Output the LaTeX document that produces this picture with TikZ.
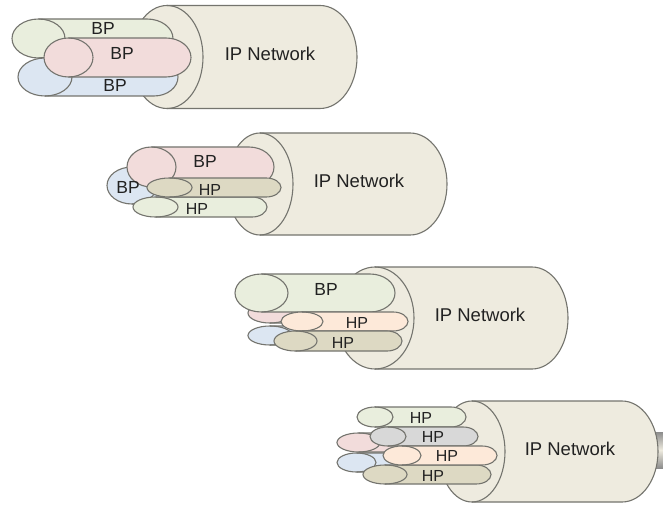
\documentclass[tikz,border=0pt]{standalone}
\usepackage{fontspec}
\setmainfont{Liberation Sans}
\definecolor{cylfill}{HTML}{EEEBDF}
\definecolor{gfill}{HTML}{E9EEDD}
\definecolor{rfill}{HTML}{F2DCDB}
\definecolor{bfill}{HTML}{DCE6F2}
\definecolor{tfill}{HTML}{DDD9C3}
\definecolor{yfill}{HTML}{D8D8D8}
\definecolor{pfill}{HTML}{FDE9D9}
\definecolor{edgec}{HTML}{74746E}
\definecolor{txtc}{HTML}{222222}
\tikzset{
  tubeline/.style={draw=edgec,line width=1.1pt},
  netlabel/.style={text=txtc,font=\fontsize{18.5}{20}\selectfont,inner sep=0pt},
  bplabel/.style={text=txtc,font=\fontsize{17.5}{19}\selectfont,inner sep=0pt},
  hplabel/.style={text=txtc,font=\fontsize{16}{17}\selectfont,inner sep=0pt}
}
% fill colour, left x, right x of the end ellipse, top y, bottom y, right x, end radius (pixels, y down)
\newcommand{\tube}[7]{%
  \pgfmathsetmacro{\ery}{(#5-#4)/2}%
  \pgfmathsetmacro{\erx}{(#3-#2)/2}%
  \pgfmathsetmacro{\ecx}{(#3+#2)/2}%
  \pgfmathsetmacro{\ecy}{504-(#5+#4)/2}%
  \pgfmathsetmacro{\yt}{504-#4}%
  \pgfmathsetmacro{\xs}{#6-#7}%
  \fill[#1] (\ecx,\yt) -- (\xs,\yt) arc[start angle=90,end angle=-90,x radius=#7pt,y radius=\ery pt]
     -- (\ecx,\yt-2*\ery) arc[start angle=270,end angle=90,x radius=\erx pt,y radius=\ery pt] -- cycle;
  \draw[tubeline] (\ecx,\yt) -- (\xs,\yt) arc[start angle=90,end angle=-90,x radius=#7pt,y radius=\ery pt]
     -- (\ecx,\yt-2*\ery);
  \draw[tubeline] (\ecx,\ecy) ellipse[x radius=\erx pt,y radius=\ery pt];
}
\newcommand{\lab}[5]{\node[#1] (#2) at (#3,504-#4) {#5};}
\begin{document}
\begin{tikzpicture}[x=1pt,y=1pt]
\useasboundingbox (0,0) rectangle (663,504);
\fill[white] (0,0) rectangle (663,504);
% group 1
\tube{cylfill}{131}{203}{5.5}{108.5}{357}{37}
\tube{gfill}{12}{65}{19}{58}{173}{26}
\tube{bfill}{18}{72}{58}{96}{178}{24}
\tube{rfill}{44}{93}{38}{77}{191}{25}
\lab{netlabel}{n1}{270}{54}{IP Network}
\lab{bplabel}{a1}{103}{28}{BP}
\lab{bplabel}{a2}{122}{53}{BP}
\lab{bplabel}{a3}{115}{85}{BP}
% group 2
\tube{cylfill}{227}{293}{133}{235}{447}{37}
\tube{bfill}{107}{157}{167}{204}{220}{18}
\tube{rfill}{127}{176}{147}{187}{274}{25}
\tube{gfill}{133}{178}{197}{217}{267}{15}
\tube{tfill}{147}{192}{178}{197}{281}{15}
\lab{netlabel}{n2}{359}{181}{IP Network}
\lab{bplabel}{b1}{205}{161}{BP}
\lab{bplabel}{b2}{128}{187}{BP}
\lab{hplabel}{b3}{210}{190}{HP}
\lab{hplabel}{b4}{197}{209}{HP}
% group 3
\tube{cylfill}{336}{414}{267}{369}{568}{36}
\tube{rfill}{248}{292}{303}{323}{320}{10}
\tube{bfill}{248}{292}{326}{345}{320}{10}
\tube{gfill}{235}{288}{274}{312}{395}{25}
\tube{pfill}{281}{323}{312}{331}{408}{15}
\tube{tfill}{274}{317}{331}{351}{402}{15}
\lab{netlabel}{n3}{480}{315}{IP Network}
\lab{bplabel}{c1}{326}{289}{BP}
\lab{hplabel}{c2}{357}{323}{HP}
\lab{hplabel}{c3}{343}{343}{HP}
% group 4
\shade[top color=black!45,bottom color=black!45,middle color=cylfill] (650,36) rectangle (663,72);
\tube{cylfill}{439}{505}{401}{502}{658}{36}
\tube{rfill}{337}{380}{433}{452}{400}{10}
\tube{bfill}{337}{376}{453}{472}{400}{10}
\tube{gfill}{357}{393}{407}{427}{466}{15}
\tube{yfill}{370}{406}{427}{446}{478}{15}
\tube{tfill}{363}{407}{465}{484}{491}{15}
\tube{pfill}{383}{421}{446}{465}{497}{15}
\lab{netlabel}{n4}{570}{449}{IP Network}
\lab{hplabel}{d1}{421}{418}{HP}
\lab{hplabel}{d2}{433}{437}{HP}
\lab{hplabel}{d3}{447}{456}{HP}
\lab{hplabel}{d4}{433}{476}{HP}
\end{tikzpicture}
\end{document}
